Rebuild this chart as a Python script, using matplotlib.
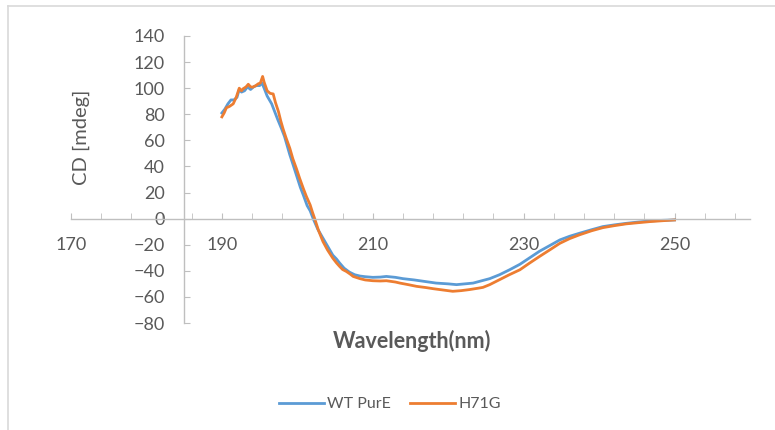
import matplotlib.pyplot as plt
from matplotlib.lines import Line2D

# CD spectra
wt_wl = [190.0, 190.4, 190.8, 191.2, 191.6, 192.0, 192.3, 192.6, 193.0, 193.4,
         193.8, 194.2, 194.6, 195.0, 195.3, 195.6, 196.0, 196.3, 196.6, 197.0,
         197.4, 197.9, 198.3, 198.6, 199.0, 199.4, 199.9, 200.4, 200.8, 201.3,
         201.7, 202.1, 202.7, 203.4, 204.0, 204.7, 205.2, 205.6, 206.2, 206.9,
         207.6, 208.3, 209.0, 210.0, 211.0, 211.8, 213.0, 214.0, 215.5, 216.7,
         218.4, 220.0, 221.1, 222.2, 223.3, 224.2, 225.5, 226.8, 228.2, 229.5,
         230.8, 232.1, 233.5, 234.8, 236.1, 237.4, 239.0, 240.5, 242.0, 243.6,
         245.2, 246.7, 248.4, 250.0]
wt_cd = [81, 84, 88, 91, 91, 93, 99, 97, 98, 101,
         99, 101, 102, 102, 104, 100, 94, 91, 88, 82,
         76, 69, 63, 57, 49, 42, 33, 24, 18, 10,
         6, 0, -8, -15, -21, -28, -31, -34, -38, -41,
         -43, -44, -44.5, -45, -44.8, -44.3, -45, -46, -47, -48,
         -49.4, -50, -50.6, -50, -49.4, -48, -46, -43, -39, -35,
         -30, -25, -20.5, -16.3, -13.5, -11.2, -8.5, -6.1, -4.8, -3.6,
         -2.6, -1.8, -1.3, -1]

h71g_wl = [190.0, 190.3, 190.6, 191.0, 191.5, 191.9, 192.3, 192.6, 192.8, 193.2,
           193.5, 193.8, 194.1, 194.5, 194.8, 195.1, 195.4, 195.6, 196.0, 196.4,
           196.8, 197.1, 197.5, 197.8, 198.1, 198.5, 199.0, 199.4, 199.9, 200.3,
           200.8, 201.2, 201.7, 202.0, 202.3, 202.8, 203.4, 204.0, 204.7, 205.2,
           205.6, 206.0, 206.5, 207.0, 207.4, 208.3, 209.0, 210.0, 211.0, 211.8,
           213.0, 213.6, 214.7, 215.8, 217.0, 218.0, 219.3, 220.6, 221.7, 222.8,
           224.0, 224.6, 225.5, 226.8, 228.1, 229.5, 230.8, 232.1, 233.5, 234.8,
           236.1, 237.4, 239.0, 240.5, 242.0, 243.6, 245.2, 246.7, 248.4, 250.0]
h71g_cd = [78, 81, 85, 86, 88, 93, 100, 98, 99.5, 101,
           103, 101, 100.8, 102, 103.3, 104, 109, 104.6, 98, 96,
           95.6, 89, 82, 75, 69, 62, 54, 46, 38, 31,
           23, 17, 10.5, 5, 0, -9, -17.6, -24, -30.3, -34,
           -36.6, -39, -40.5, -42.5, -44.3, -46, -47, -47.6, -47.8, -47.6,
           -48.6, -49.4, -50.6, -51.9, -52.8, -53.7, -54.7, -55.7, -55.2, -54.4,
           -53.3, -52.7, -50.6, -46.8, -43, -39.2, -34, -29, -23.8, -18.9,
           -15.3, -12.4, -9.3, -6.9, -5.4, -4, -3.1, -2.3, -1.6, -1]

x_labels = [170, 190, 210, 230, 250]
y_ticks = [-80, -60, -40, -20, 0, 20, 40, 60, 80, 100, 120, 140]

plt.rcParams['font.family'] = ['Lato', 'DejaVu Sans']
grey = '#595959'
axis_col = '#bfbfbf'

fig = plt.figure(figsize=(7.75, 4.3), dpi=100)
ax = fig.add_axes([71 / 775, 107 / 430, 679 / 775, 287 / 430])

ax.plot(wt_wl, wt_cd, color='#5B9BD5', lw=2.0, label='WT PurE')
ax.plot(h71g_wl, h71g_cd, color='#ED7D31', lw=2.0, label='H71G')

ax.set_xlim(170, 260)
ax.set_ylim(-80, 140)

# Excel style axes: y axis crosses at 185, x axis at 0
ax.spines['top'].set_visible(False)
ax.spines['right'].set_visible(False)
ax.spines['left'].set_position(('data', 185))
ax.spines['bottom'].set_position(('data', 0))
for s in ['left', 'bottom']:
    ax.spines[s].set_color(axis_col)
    ax.spines[s].set_linewidth(1.0)

ax.set_xticks(x_labels)
ax.set_xticks(list(range(170, 260, 4)), minor=True)
ax.set_yticks(y_ticks)
ax.tick_params(axis='x', which='both', direction='in', length=4, color=axis_col,
               labelsize=13, labelcolor=grey, pad=13)
ax.tick_params(axis='y', direction='in', length=4, color=axis_col,
               labelsize=13, labelcolor=grey, pad=14)

fig.text(81 / 775, 1 - 137 / 430, 'CD [mdeg]', rotation=90, ha='center',
         va='center', fontsize=14.5, color=grey)
fig.text(412 / 775, 1 - 341 / 430, 'Wavelength(nm)', ha='center', va='center',
         fontsize=15.5, fontweight='bold', color=grey)

fig.legend(loc='center', bbox_to_anchor=(0.503, 1 - 404 / 430), ncol=2,
           frameon=False, fontsize=11.5, handlelength=2.8, handletextpad=0.2,
           columnspacing=1.2, labelcolor=grey)

# chart border (cropped on the right and bottom)
fig.add_artist(Line2D([8 / 775, 8 / 775], [0, 1 - 6 / 430], color='#d9d9d9', lw=1.2))
fig.add_artist(Line2D([8 / 775, 1], [1 - 6 / 430, 1 - 6 / 430], color='#d9d9d9', lw=1.2))

fig.savefig('out.png', dpi=100)
